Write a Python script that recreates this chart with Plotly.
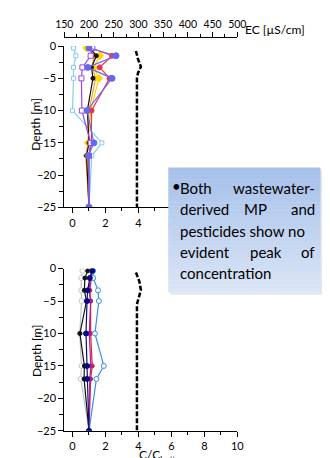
import plotly.graph_objects as go

W, H = 330, 458

# ---------------- data ----------------
depth_top = [-0.3, -1.5, -3.3, -5, -10, -15, -17, -25]
top_lightblue = [0.06, 0.2, 0.06, 0.06, 0.0, 1.78, 1.17, 1.0]
top_violet = [1.2, 1.1, 0.6, 0.54, 0.57, 1.1, 1.0, 1.0]
top_slate = [1.0, 2.64, 0.92, 2.4, 0.88, 1.3, 0.96, 1.0]
top_red = [1.15, 2.4, 1.65, 2.25, 1.15, 1.15, 1.0, 1.0]
top_yellow = [0.85, 1.65, 1.3, 1.6, 1.1, 0.95, 0.9, 1.0]
top_black = [1.05, 1.45, 1.15, 1.24, 0.9, 1.0, 0.85, 1.0]
top_orange = [0.95, 1.3, 1.2, 1.4, 1.0, 0.95, 0.8, 1.0]

depth_bot = [-0.35, -1.45, -3.35, -5, -10, -15, -17, -25]
bot_gray = [0.6, 0.53, 0.53, 0.55, 0.44, 0.55, 0.5, 1.0]
bot_black = [0.92, 0.75, 0.72, 0.85, 0.45, 0.72, 0.7, 1.0]
bot_navy = [1.2, 1.05, 0.92, 0.88, 0.82, 0.88, 0.88, 1.0]
bot_magenta = [1.15, 1.1, 1.0, 1.1, 1.02, 1.11, 1.05, 1.0]
bot_red = [1.2, 1.15, 1.05, 1.1, 1.1, 1.2, 1.1, 1.0]
bot_blue = [1.25, 1.25, 1.55, 1.6, 1.36, 1.9, 1.45, 1.0]

ec_depth_top = [-0.75, -2.0, -3.2, -4.2, -5.0, -25]
ec_top = [295, 299, 305, 299, 297, 297]
ec_depth_bot = [-0.6, -2.0, -3.3, -4.6, -5.5, -25]
ec_bot = [295, 302, 305, 300, 297, 297]

cc_ticks = [0, 2, 4, 6, 8, 10]
ec_ticks = [150, 200, 250, 300, 350, 400, 450, 500]
depth_ticks = [0, -5, -10, -15, -20, -25]

FONT = "Lato"

def px_x(p):
    return p / W

def px_y(p):
    return 1 - p / H

fig = go.Figure()

def add_series(x, y, color, xa, ya, symbol="circle", fill=None, size=5, width=1.2):
    fig.add_trace(go.Scatter(
        x=x, y=y, xaxis=xa, yaxis=ya, mode="lines+markers",
        line=dict(color=color, width=width),
        marker=dict(symbol=symbol, size=size, color=fill if fill else color,
                    line=dict(color=color, width=1)),
        showlegend=False, hoverinfo="skip"))

# top plot series
add_series(top_lightblue, depth_top, "#86cdf0", "x", "y", "square", "white", 4)
add_series(top_orange, depth_top, "#f0a030", "x", "y", "circle", None, 4)
add_series(top_yellow, depth_top, "#ffd700", "x", "y", "diamond", None, 6)
add_series(top_black, depth_top, "#111111", "x", "y", "circle", None, 4)
add_series(top_red, depth_top, "#e8334f", "x", "y", "circle", None, 5)
add_series(top_violet, depth_top, "#9a45f0", "x", "y", "square", "white", 5)
add_series(top_slate, depth_top, "#6767f2", "x", "y", "circle", None, 6)

# bottom plot series
add_series(bot_gray, depth_bot, "#c4c4c4", "x3", "y2", "circle", "white", 5)
add_series(bot_black, depth_bot, "#111111", "x3", "y2", "circle", None, 4)
add_series(bot_red, depth_bot, "#e02040", "x3", "y2", "circle", None, 4)
add_series(bot_magenta, depth_bot, "#a0209f", "x3", "y2", "circle", None, 4)
add_series(bot_blue, depth_bot, "#3a8ee8", "x3", "y2", "circle", "white", 5)
add_series(bot_navy, depth_bot, "#0a0a80", "x3", "y2", "circle", None, 5)

# EC dashed profiles
for xs, ys, xa, ya in [(ec_top, ec_depth_top, "x2", "y"), (ec_bot, ec_depth_bot, "x4", "y2")]:
    fig.add_trace(go.Scatter(x=xs, y=ys, xaxis=xa, yaxis=ya, mode="lines",
                             line=dict(color="black", width=2.5, dash="5px,2px"),
                             showlegend=False, hoverinfo="skip"))

xdom = [px_x(50), px_x(233)]
ydom_top = [px_y(198), px_y(32)]
ydom_bot = [px_y(428), px_y(261)]

tickfont = dict(family=FONT, size=11, color="black")
common_x = dict(range=[-0.5, 10], tickvals=cc_ticks, ticks="outside", ticklen=5,
                tickwidth=1, tickcolor="black", showline=True, linecolor="black",
                linewidth=1, showgrid=False, zeroline=False, tickfont=tickfont,
                minor=dict(dtick=1, tick0=0, ticks="outside", ticklen=3, tickcolor="black"))
common_y = dict(range=[-25, 0], tickvals=depth_ticks, ticks="outside", ticklen=5,
                tickwidth=1, tickcolor="black", showline=True, linecolor="black",
                linewidth=1, showgrid=False, zeroline=False, tickfont=tickfont,
                minor=dict(dtick=2.5, tick0=0, ticks="outside", ticklen=4, tickcolor="black"))

fig.update_layout(
    width=W, height=H, margin=dict(l=0, r=0, t=0, b=0),
    paper_bgcolor="white", plot_bgcolor="rgba(0,0,0,0)",
    xaxis=dict(domain=xdom, anchor="y", **common_x),
    xaxis2=dict(domain=xdom, overlaying="x", side="top", anchor="free", position=px_y(23),
                range=[150, 500], tickvals=ec_ticks, ticks="outside", ticklen=5,
                tickcolor="black", showline=True, linecolor="black", linewidth=1,
                showgrid=False, zeroline=False, tickfont=dict(family=FONT, size=10.5, color="black"),
                minor=dict(dtick=25, tick0=150, ticks="outside", ticklen=3, tickcolor="black")),
    yaxis=dict(domain=ydom_top, anchor="x", **common_y),
    xaxis3=dict(domain=xdom, anchor="y2", **common_x),
    xaxis4=dict(domain=xdom, overlaying="x3", anchor="y2", range=[150, 500], visible=False),
    yaxis2=dict(domain=ydom_bot, anchor="x3", **common_y),
)

shapes = []
# callout shadow
shapes.append(dict(type="rect", xref="paper", yref="paper",
                   x0=px_x(162), x1=px_x(324), y0=px_y(288), y1=px_y(160),
                   fillcolor="#e4e8ee", line=dict(width=0), layer="above"))
# callout gradient box
x0b, x1b, y0b, y1b = 160, 321, 157, 285
n = 32
c_top = (166, 192, 234)
c_bot = (218, 229, 246)
for i in range(n):
    t = i / (n - 1)
    c = tuple(int(round(c_top[k] + (c_bot[k] - c_top[k]) * t)) for k in range(3))
    ya = y0b + (y1b - y0b) * i / n
    yb = y0b + (y1b - y0b) * (i + 1) / n
    shapes.append(dict(type="rect", xref="paper", yref="paper",
                       x0=px_x(x0b), x1=px_x(x1b), y0=px_y(yb + 0.3), y1=px_y(ya),
                       fillcolor="rgb(%d,%d,%d)" % c, line=dict(width=0), layer="above"))
# right edge strip
shapes.append(dict(type="rect", xref="paper", yref="paper",
                   x0=px_x(327), x1=1, y0=0, y1=1,
                   fillcolor="#c6d9f1", line=dict(width=0), layer="above"))
fig.update_layout(shapes=shapes)

ann = []
def txt(text, x, y, size=12, xanchor="center", angle=0):
    ann.append(dict(text=text, x=px_x(x), y=px_y(y), xref="paper", yref="paper",
                    showarrow=False, xanchor=xanchor, yanchor="middle", textangle=angle,
                    borderpad=0,
                    font=dict(family=FONT, size=size, color="black")))

txt("EC [µS/cm]", 240, 15, 12, "left")
txt("Depth [m]", 20, 112, 12, "center", -90)
txt("Depth [m]", 20, 345, 12, "center", -90)
txt("C/C<sub>bottom</sub>", 128, 453, 12, "left")

# callout text (justified manually)
fs = 15
L, R = 171, 316
txt("•", 163, 176, fs, "left")
txt("Both", L, 178, fs, "left")
txt("wastewater-", R, 178, fs, "right")
txt("derived", L, 200, fs, "left")
txt("MP", 252, 200, fs, "center")
txt("and", R, 200, fs, "right")
txt("pesticides show no", L, 222, fs, "left")
txt("evident", L, 244, fs, "left")
txt("peak", 263, 244, fs, "center")
txt("of", R, 244, fs, "right")
txt("concentration", L, 266, fs, "left")
fig.update_layout(annotations=ann)

fig.write_html("out.html")
